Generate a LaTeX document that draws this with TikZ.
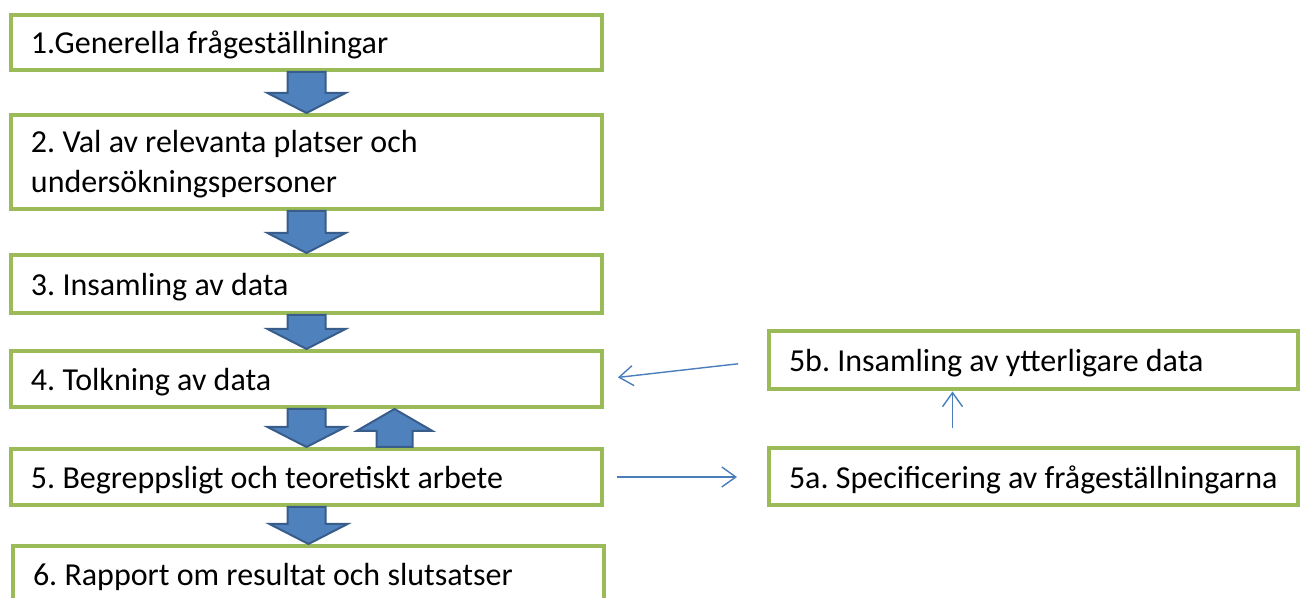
\documentclass[tikz,border=0pt]{standalone}
\usepackage{fontspec}
\setmainfont{Carlito}
\usetikzlibrary{positioning,calc,arrows.meta}

\definecolor{boxgreen}{HTML}{9BBB59}
\definecolor{arrowblue}{HTML}{4F81BD}
\definecolor{arrowedge}{HTML}{385D8A}
\definecolor{lineblue}{HTML}{4A7EBB}

\tikzset{
    stepbox/.style={draw=boxgreen,line width=2pt,fill=white,text width=275.5pt,
        inner xsep=10pt,inner ysep=2pt,text depth=0pt,align=flush left,
        font=\fontsize{16}{20}\selectfont\frenchspacing},
    sidebox/.style={stepbox,text width=244.5pt},
    bigarrow/.style={fill=arrowblue,draw=arrowedge,line width=1pt,line join=miter},
    thinarrow/.style={draw=lineblue,line width=0.7pt,-{Straight Barb[length=7pt,width=10pt]}}
}

% block arrow pointing down from #1 to #2
\newcommand{\downflow}[2]{%
    \draw[bigarrow] (#1) ++(-19,0) -- ++(38,0) |- ($(#2)+(39,-20)$) -- (#2) -- ++(-39,-20) -| cycle;}
% block arrow pointing up from #1 to #2
\newcommand{\upflow}[2]{%
    \draw[bigarrow] (#1) ++(-18,0) -- ++(36,0) |- ($(#2)+(38,22)$) -- (#2) -- ++(-38,22) -| cycle;}

\begin{document}
\begin{tikzpicture}[x=0.5pt,y=-0.5pt]
    \useasboundingbox (0,0) rectangle (1303,598);

    \node[stepbox,minimum height=27.5pt] (b1) at (306.5,42.5) {1.Generella frågeställningar};
    \node[stepbox,minimum height=47pt,text depth=21pt,below=20.5pt of b1] (b2) {2. Val av relevanta platser och\\undersökningspersoner};
    \node[stepbox,minimum height=29pt,below=21pt of b2] (b3) {3. Insamling av data};
    \node[stepbox,minimum height=28pt,below=17pt of b3] (b4) {4. Tolkning av data};
    \node[stepbox,minimum height=28pt,below=19pt of b4] (b5) {5. Begreppsligt och teoretiskt arbete};
    \node[stepbox,minimum height=28pt,below=18.5pt of b5,xshift=1pt] (b6) {6. Rapport om resultat och slutsatser};

    \node[sidebox,minimum height=28.5pt,right=81.5pt of b5] (b5a) {\mbox{5a. Specificering av frågeställningarna}};
    \node[sidebox,minimum height=29pt,above=27.5pt of b5a] (b5b) {5b. Insamling av ytterligare data};

    \downflow{b1.south}{b2.north}
    \downflow{b2.south}{b3.north}
    \downflow{b3.south}{b4.north}
    \downflow{b4.south}{b5.north}
    \downflow{b5.south}{b6.north}

    \coordinate (up0) at ($(b5.north)+(88,0)$);
    \coordinate (up1) at ($(b4.south)+(88,0)$);
    \upflow{up0}{up1}

    \draw[thinarrow,shorten <=14.5pt,shorten >=7pt] (b5b.west) -- (b4.east);
    \draw[thinarrow,shorten <=6.5pt,shorten >=15pt] (b5.east) -- (b5a.west);
    \draw[thinarrow,shorten <=9pt] ([xshift=-40.5pt]b5a.north) -- ([xshift=-40.5pt]b5b.south);
\end{tikzpicture}
\end{document}
